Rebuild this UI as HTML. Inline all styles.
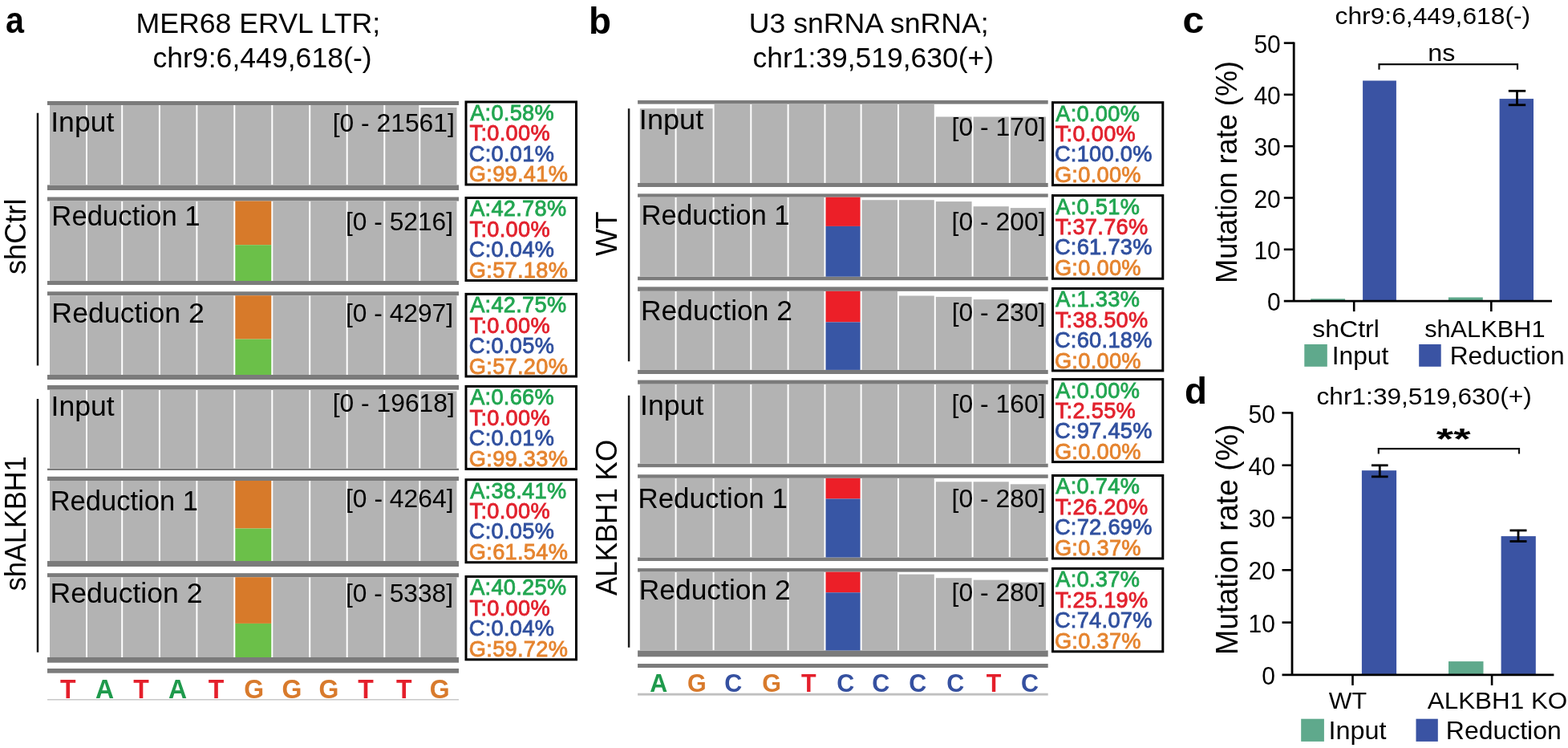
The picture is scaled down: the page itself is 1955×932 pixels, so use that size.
<!DOCTYPE html>
<html><head><meta charset="utf-8"><title>Figure</title>
<style>
html,body{margin:0;padding:0;background:#fff;}
body{width:1955px;height:932px;overflow:hidden;}
svg{display:block;}
text{font-family:"Liberation Sans",Arial,Helvetica,sans-serif;}
</style></head><body>
<svg width="1955" height="932" viewBox="0 0 1955 932">
<rect width="1955" height="932" fill="#fff"/>
<rect x="59.0" y="126.0" width="513.0" height="5.0" fill="#7b7b7b"/>
<rect x="59.0" y="230.5" width="513.0" height="6.5" fill="#7b7b7b"/>
<rect x="62.0" y="131.0" width="45.0" height="99.5" fill="#b3b3b3"/>
<rect x="109.0" y="131.0" width="42.2" height="99.5" fill="#b3b3b3"/>
<rect x="153.2" y="131.0" width="44.7" height="99.5" fill="#b3b3b3"/>
<rect x="199.9" y="131.0" width="44.5" height="99.5" fill="#b3b3b3"/>
<rect x="246.4" y="131.0" width="44.9" height="99.5" fill="#b3b3b3"/>
<rect x="293.3" y="131.0" width="45.0" height="99.5" fill="#b3b3b3"/>
<rect x="340.3" y="131.0" width="44.9" height="99.5" fill="#b3b3b3"/>
<rect x="387.2" y="131.0" width="44.5" height="99.5" fill="#b3b3b3"/>
<rect x="433.7" y="131.0" width="44.6" height="99.5" fill="#b3b3b3"/>
<rect x="480.3" y="131.0" width="42.0" height="99.5" fill="#b3b3b3"/>
<rect x="524.3" y="134.0" width="45.2" height="96.5" fill="#b3b3b3"/>
<rect x="59.0" y="245.5" width="513.0" height="5.0" fill="#7b7b7b"/>
<rect x="59.0" y="350.0" width="513.0" height="5.0" fill="#7b7b7b"/>
<rect x="62.0" y="250.5" width="45.0" height="99.5" fill="#b3b3b3"/>
<rect x="109.0" y="250.5" width="42.2" height="99.5" fill="#b3b3b3"/>
<rect x="153.2" y="250.5" width="44.7" height="99.5" fill="#b3b3b3"/>
<rect x="199.9" y="250.5" width="44.5" height="99.5" fill="#b3b3b3"/>
<rect x="246.4" y="250.5" width="44.9" height="99.5" fill="#b3b3b3"/>
<rect x="293.3" y="250.5" width="45.0" height="54.7" fill="#d77a2a"/>
<rect x="293.3" y="305.2" width="45.0" height="44.8" fill="#6bc049"/>
<rect x="340.3" y="250.5" width="44.9" height="99.5" fill="#b3b3b3"/>
<rect x="387.2" y="250.5" width="44.5" height="99.5" fill="#b3b3b3"/>
<rect x="433.7" y="250.5" width="44.6" height="99.5" fill="#b3b3b3"/>
<rect x="480.3" y="250.5" width="42.0" height="99.5" fill="#b3b3b3"/>
<rect x="524.3" y="250.5" width="45.2" height="99.5" fill="#b3b3b3"/>
<rect x="59.0" y="363.3" width="513.0" height="4.9" fill="#7b7b7b"/>
<rect x="59.0" y="467.0" width="513.0" height="6.0" fill="#7b7b7b"/>
<rect x="62.0" y="368.2" width="45.0" height="98.8" fill="#b3b3b3"/>
<rect x="109.0" y="368.2" width="42.2" height="98.8" fill="#b3b3b3"/>
<rect x="153.2" y="368.2" width="44.7" height="98.8" fill="#b3b3b3"/>
<rect x="199.9" y="368.2" width="44.5" height="98.8" fill="#b3b3b3"/>
<rect x="246.4" y="368.2" width="44.9" height="98.8" fill="#b3b3b3"/>
<rect x="293.3" y="368.2" width="45.0" height="54.4" fill="#d77a2a"/>
<rect x="293.3" y="422.6" width="45.0" height="44.4" fill="#6bc049"/>
<rect x="340.3" y="368.2" width="44.9" height="98.8" fill="#b3b3b3"/>
<rect x="387.2" y="368.2" width="44.5" height="98.8" fill="#b3b3b3"/>
<rect x="433.7" y="368.2" width="44.6" height="98.8" fill="#b3b3b3"/>
<rect x="480.3" y="368.2" width="42.0" height="98.8" fill="#b3b3b3"/>
<rect x="524.3" y="368.2" width="45.2" height="98.8" fill="#b3b3b3"/>
<rect x="59.0" y="480.0" width="513.0" height="5.7" fill="#7b7b7b"/>
<rect x="59.0" y="583.7" width="513.0" height="2.3" fill="#7b7b7b"/>
<rect x="62.0" y="485.7" width="45.0" height="98.0" fill="#b3b3b3"/>
<rect x="109.0" y="485.7" width="42.2" height="98.0" fill="#b3b3b3"/>
<rect x="153.2" y="485.7" width="44.7" height="98.0" fill="#b3b3b3"/>
<rect x="199.9" y="485.7" width="44.5" height="98.0" fill="#b3b3b3"/>
<rect x="246.4" y="485.7" width="44.9" height="98.0" fill="#b3b3b3"/>
<rect x="293.3" y="485.7" width="45.0" height="98.0" fill="#b3b3b3"/>
<rect x="340.3" y="485.7" width="44.9" height="98.0" fill="#b3b3b3"/>
<rect x="387.2" y="485.7" width="44.5" height="98.0" fill="#b3b3b3"/>
<rect x="433.7" y="485.7" width="44.6" height="98.0" fill="#b3b3b3"/>
<rect x="480.3" y="485.7" width="42.0" height="98.0" fill="#b3b3b3"/>
<rect x="524.3" y="487.4" width="45.2" height="96.3" fill="#b3b3b3"/>
<rect x="59.0" y="593.8" width="513.0" height="5.2" fill="#7b7b7b"/>
<rect x="59.0" y="699.0" width="513.0" height="7.0" fill="#7b7b7b"/>
<rect x="62.0" y="599.0" width="45.0" height="100.0" fill="#b3b3b3"/>
<rect x="109.0" y="599.0" width="42.2" height="100.0" fill="#b3b3b3"/>
<rect x="153.2" y="599.0" width="44.7" height="100.0" fill="#b3b3b3"/>
<rect x="199.9" y="599.0" width="44.5" height="100.0" fill="#b3b3b3"/>
<rect x="246.4" y="599.0" width="44.9" height="100.0" fill="#b3b3b3"/>
<rect x="293.3" y="599.0" width="45.0" height="59.5" fill="#d77a2a"/>
<rect x="293.3" y="658.5" width="45.0" height="40.5" fill="#6bc049"/>
<rect x="340.3" y="599.0" width="44.9" height="100.0" fill="#b3b3b3"/>
<rect x="387.2" y="599.0" width="44.5" height="100.0" fill="#b3b3b3"/>
<rect x="433.7" y="599.0" width="44.6" height="100.0" fill="#b3b3b3"/>
<rect x="480.3" y="599.0" width="42.0" height="100.0" fill="#b3b3b3"/>
<rect x="524.3" y="599.0" width="45.2" height="100.0" fill="#b3b3b3"/>
<rect x="59.0" y="714.2" width="513.0" height="5.0" fill="#7b7b7b"/>
<rect x="59.0" y="819.0" width="513.0" height="6.7" fill="#7b7b7b"/>
<rect x="62.0" y="719.2" width="45.0" height="99.8" fill="#b3b3b3"/>
<rect x="109.0" y="719.2" width="42.2" height="99.8" fill="#b3b3b3"/>
<rect x="153.2" y="719.2" width="44.7" height="99.8" fill="#b3b3b3"/>
<rect x="199.9" y="719.2" width="44.5" height="99.8" fill="#b3b3b3"/>
<rect x="246.4" y="719.2" width="44.9" height="99.8" fill="#b3b3b3"/>
<rect x="293.3" y="719.2" width="45.0" height="57.7" fill="#d77a2a"/>
<rect x="293.3" y="776.9" width="45.0" height="42.1" fill="#6bc049"/>
<rect x="340.3" y="719.2" width="44.9" height="99.8" fill="#b3b3b3"/>
<rect x="387.2" y="719.2" width="44.5" height="99.8" fill="#b3b3b3"/>
<rect x="433.7" y="719.2" width="44.6" height="99.8" fill="#b3b3b3"/>
<rect x="480.3" y="719.2" width="42.0" height="99.8" fill="#b3b3b3"/>
<rect x="524.3" y="719.2" width="45.2" height="99.8" fill="#b3b3b3"/>
<rect x="59.0" y="833.0" width="513.0" height="5.7" fill="#7b7b7b"/>
<rect x="59.0" y="871.0" width="513.0" height="1.5" fill="#c8c8c8"/>
<text transform="matrix(1 0 0 1.025 0 -21.750)" x="75.02" y="870.00" font-size="32.00" font-weight="bold" fill="#e41f2b">T</text>
<text transform="matrix(1 0 0 1.025 0 -21.750)" x="118.97" y="870.00" font-size="32.00" font-weight="bold" fill="#1f9a4c">A</text>
<text transform="matrix(1 0 0 1.025 0 -21.750)" x="166.22" y="870.00" font-size="32.00" font-weight="bold" fill="#e41f2b">T</text>
<text transform="matrix(1 0 0 1.025 0 -21.750)" x="210.07" y="870.00" font-size="32.00" font-weight="bold" fill="#1f9a4c">A</text>
<text transform="matrix(1 0 0 1.025 0 -21.750)" x="259.72" y="870.00" font-size="32.00" font-weight="bold" fill="#e41f2b">T</text>
<text transform="matrix(1 0 0 1.025 0 -21.750)" x="304.39" y="870.00" font-size="32.00" font-weight="bold" fill="#d87a2c">G</text>
<text transform="matrix(1 0 0 1.025 0 -21.750)" x="351.39" y="870.00" font-size="32.00" font-weight="bold" fill="#d87a2c">G</text>
<text transform="matrix(1 0 0 1.025 0 -21.750)" x="397.49" y="870.00" font-size="32.00" font-weight="bold" fill="#d87a2c">G</text>
<text transform="matrix(1 0 0 1.025 0 -21.750)" x="446.32" y="870.00" font-size="32.00" font-weight="bold" fill="#e41f2b">T</text>
<text transform="matrix(1 0 0 1.025 0 -21.750)" x="493.92" y="870.00" font-size="32.00" font-weight="bold" fill="#e41f2b">T</text>
<text transform="matrix(1 0 0 1.025 0 -21.750)" x="535.69" y="870.00" font-size="32.00" font-weight="bold" fill="#d87a2c">G</text>
<text transform="matrix(1 0 0 1.025 0 -4.107)" x="63.22" y="164.30" font-size="35.00" fill="#000" textLength="79.14" lengthAdjust="spacingAndGlyphs">Input</text>
<text transform="matrix(1 0 0 1.025 0 -7.027)" x="64.35" y="281.10" font-size="35.00" fill="#000" textLength="185.34" lengthAdjust="spacingAndGlyphs">Reduction 1</text>
<text transform="matrix(1 0 0 1.025 0 -10.060)" x="64.37" y="402.40" font-size="35.00" fill="#000" textLength="190.52" lengthAdjust="spacingAndGlyphs">Reduction 2</text>
<text transform="matrix(1 0 0 1.025 0 -12.957)" x="63.62" y="518.30" font-size="35.00" fill="#000" textLength="79.14" lengthAdjust="spacingAndGlyphs">Input</text>
<text transform="matrix(1 0 0 1.025 0 -15.890)" x="62.67" y="635.60" font-size="35.00" fill="#000" textLength="184.22" lengthAdjust="spacingAndGlyphs">Reduction 1</text>
<text transform="matrix(1 0 0 1.025 0 -18.777)" x="62.58" y="751.10" font-size="35.00" fill="#000" textLength="189.91" lengthAdjust="spacingAndGlyphs">Reduction 2</text>
<text transform="matrix(1 0 0 1.025 0 -4.107)" x="414.63" y="164.30" font-size="31.00" fill="#000" textLength="152.24" lengthAdjust="spacingAndGlyphs">[0 - 21561]</text>
<text transform="matrix(1 0 0 1.025 0 -7.172)" x="431.04" y="286.90" font-size="31.00" fill="#000" textLength="134.02" lengthAdjust="spacingAndGlyphs">[0 - 5216]</text>
<text transform="matrix(1 0 0 1.025 0 -10.035)" x="431.04" y="401.40" font-size="31.00" fill="#000" textLength="134.02" lengthAdjust="spacingAndGlyphs">[0 - 4297]</text>
<text transform="matrix(1 0 0 1.025 0 -12.830)" x="414.63" y="513.20" font-size="31.00" fill="#000" textLength="152.24" lengthAdjust="spacingAndGlyphs">[0 - 19618]</text>
<text transform="matrix(1 0 0 1.025 0 -15.812)" x="431.03" y="632.50" font-size="31.00" fill="#000" textLength="134.54" lengthAdjust="spacingAndGlyphs">[0 - 4264]</text>
<text transform="matrix(1 0 0 1.025 0 -18.747)" x="431.04" y="749.90" font-size="31.00" fill="#000" textLength="134.02" lengthAdjust="spacingAndGlyphs">[0 - 5338]</text>
<rect x="581.0" y="127.0" width="137.5" height="103.0" fill="#fff" stroke="#000" stroke-width="3"/>
<text x="586.15" y="149.90" font-size="27.2" letter-spacing="0.3" fill="#22a651" stroke="#22a651" stroke-width="0.85">A:0.58%</text>
<text x="585.59" y="175.30" font-size="27.2" letter-spacing="0.3" fill="#e2222e" stroke="#e2222e" stroke-width="0.85">T:0.00%</text>
<text x="584.82" y="200.70" font-size="27.2" letter-spacing="0.3" fill="#30509f" stroke="#30509f" stroke-width="0.85">C:0.01%</text>
<text x="584.83" y="226.10" font-size="27.2" letter-spacing="0.3" fill="#e5842f" stroke="#e5842f" stroke-width="0.85">G:99.41%</text>
<rect x="581.0" y="246.5" width="137.5" height="103.0" fill="#fff" stroke="#000" stroke-width="3"/>
<text x="586.15" y="269.40" font-size="27.2" letter-spacing="0.3" fill="#22a651" stroke="#22a651" stroke-width="0.85">A:42.78%</text>
<text x="585.59" y="294.80" font-size="27.2" letter-spacing="0.3" fill="#e2222e" stroke="#e2222e" stroke-width="0.85">T:0.00%</text>
<text x="584.82" y="320.20" font-size="27.2" letter-spacing="0.3" fill="#30509f" stroke="#30509f" stroke-width="0.85">C:0.04%</text>
<text x="584.83" y="345.60" font-size="27.2" letter-spacing="0.3" fill="#e5842f" stroke="#e5842f" stroke-width="0.85">G:57.18%</text>
<rect x="581.0" y="366.4" width="137.5" height="102.6" fill="#fff" stroke="#000" stroke-width="3"/>
<text x="586.15" y="389.30" font-size="27.2" letter-spacing="0.3" fill="#22a651" stroke="#22a651" stroke-width="0.85">A:42.75%</text>
<text x="585.59" y="414.70" font-size="27.2" letter-spacing="0.3" fill="#e2222e" stroke="#e2222e" stroke-width="0.85">T:0.00%</text>
<text x="584.82" y="440.10" font-size="27.2" letter-spacing="0.3" fill="#30509f" stroke="#30509f" stroke-width="0.85">C:0.05%</text>
<text x="584.83" y="465.50" font-size="27.2" letter-spacing="0.3" fill="#e5842f" stroke="#e5842f" stroke-width="0.85">G:57.20%</text>
<rect x="581.0" y="481.4" width="137.5" height="103.0" fill="#fff" stroke="#000" stroke-width="3"/>
<text x="586.15" y="504.30" font-size="27.2" letter-spacing="0.3" fill="#22a651" stroke="#22a651" stroke-width="0.85">A:0.66%</text>
<text x="585.59" y="529.70" font-size="27.2" letter-spacing="0.3" fill="#e2222e" stroke="#e2222e" stroke-width="0.85">T:0.00%</text>
<text x="584.82" y="555.10" font-size="27.2" letter-spacing="0.3" fill="#30509f" stroke="#30509f" stroke-width="0.85">C:0.01%</text>
<text x="584.83" y="580.50" font-size="27.2" letter-spacing="0.3" fill="#e5842f" stroke="#e5842f" stroke-width="0.85">G:99.33%</text>
<rect x="581.0" y="597.7" width="137.5" height="103.0" fill="#fff" stroke="#000" stroke-width="3"/>
<text x="586.15" y="620.60" font-size="27.2" letter-spacing="0.3" fill="#22a651" stroke="#22a651" stroke-width="0.85">A:38.41%</text>
<text x="585.59" y="646.00" font-size="27.2" letter-spacing="0.3" fill="#e2222e" stroke="#e2222e" stroke-width="0.85">T:0.00%</text>
<text x="584.82" y="671.40" font-size="27.2" letter-spacing="0.3" fill="#30509f" stroke="#30509f" stroke-width="0.85">C:0.05%</text>
<text x="584.83" y="696.80" font-size="27.2" letter-spacing="0.3" fill="#e5842f" stroke="#e5842f" stroke-width="0.85">G:61.54%</text>
<rect x="581.0" y="718.4" width="137.5" height="103.4" fill="#fff" stroke="#000" stroke-width="3"/>
<text x="586.15" y="741.30" font-size="27.2" letter-spacing="0.3" fill="#22a651" stroke="#22a651" stroke-width="0.85">A:40.25%</text>
<text x="585.59" y="766.70" font-size="27.2" letter-spacing="0.3" fill="#e2222e" stroke="#e2222e" stroke-width="0.85">T:0.00%</text>
<text x="584.82" y="792.10" font-size="27.2" letter-spacing="0.3" fill="#30509f" stroke="#30509f" stroke-width="0.85">C:0.04%</text>
<text x="584.83" y="817.50" font-size="27.2" letter-spacing="0.3" fill="#e5842f" stroke="#e5842f" stroke-width="0.85">G:59.72%</text>
<line x1="47.0" y1="140.7" x2="47.0" y2="455.5" stroke="#1a1a1a" stroke-width="2.5"/>
<line x1="47.0" y1="497.0" x2="47.0" y2="812.8" stroke="#1a1a1a" stroke-width="2.5"/>
<text transform="translate(32.20 341.00) rotate(-90) scale(1 1.04)" x="-1.01" y="0" font-size="35.00" fill="#000" textLength="94.43" lengthAdjust="spacingAndGlyphs">shCtrl</text>
<text transform="translate(32.20 735.30) rotate(-90) scale(1 1.04)" x="-0.96" y="0" font-size="35.00" fill="#000" textLength="167.93" lengthAdjust="spacingAndGlyphs">shALKBH1</text>
<text transform="matrix(1 0 0 1.025 0 -1.032)" x="6.99" y="41.30" font-size="44.50" font-weight="bold" fill="#000" textLength="22.95" lengthAdjust="spacingAndGlyphs">a</text>
<text transform="matrix(1 0 0 1.025 0 -1.022)" x="169.42" y="40.90" font-size="35.00" fill="#000" textLength="304.74" lengthAdjust="spacingAndGlyphs">MER68 ERVL LTR;</text>
<text transform="matrix(1 0 0 1.025 0 -2.095)" x="190.39" y="83.80" font-size="34.50" fill="#000" textLength="273.22" lengthAdjust="spacingAndGlyphs">chr9:6,449,618(-)</text>
<rect x="795.1" y="125.0" width="511.6" height="4.6" fill="#7b7b7b"/>
<rect x="795.1" y="228.0" width="511.6" height="5.0" fill="#7b7b7b"/>
<rect x="797.9" y="135.2" width="43.7" height="92.8" fill="#b3b3b3"/>
<rect x="843.6" y="135.2" width="45.0" height="92.8" fill="#b3b3b3"/>
<rect x="890.6" y="129.6" width="44.7" height="98.4" fill="#b3b3b3"/>
<rect x="937.3" y="129.6" width="44.3" height="98.4" fill="#b3b3b3"/>
<rect x="983.6" y="129.6" width="43.9" height="98.4" fill="#b3b3b3"/>
<rect x="1029.5" y="129.6" width="43.1" height="98.4" fill="#b3b3b3"/>
<rect x="1074.6" y="129.6" width="44.4" height="98.4" fill="#b3b3b3"/>
<rect x="1121.0" y="129.6" width="43.8" height="98.4" fill="#b3b3b3"/>
<rect x="1166.8" y="145.5" width="44.8" height="82.5" fill="#b3b3b3"/>
<rect x="1213.6" y="145.5" width="44.2" height="82.5" fill="#b3b3b3"/>
<rect x="1259.8" y="145.5" width="44.2" height="82.5" fill="#b3b3b3"/>
<rect x="795.1" y="241.4" width="511.6" height="4.3" fill="#7b7b7b"/>
<rect x="795.1" y="344.7" width="511.6" height="4.5" fill="#7b7b7b"/>
<rect x="797.9" y="245.7" width="43.7" height="99.0" fill="#b3b3b3"/>
<rect x="843.6" y="245.7" width="45.0" height="99.0" fill="#b3b3b3"/>
<rect x="890.6" y="245.7" width="44.7" height="99.0" fill="#b3b3b3"/>
<rect x="937.3" y="245.7" width="44.3" height="99.0" fill="#b3b3b3"/>
<rect x="983.6" y="245.7" width="43.9" height="99.0" fill="#b3b3b3"/>
<rect x="1029.5" y="245.7" width="43.1" height="36.2" fill="#ec1f28"/>
<rect x="1029.5" y="281.9" width="43.1" height="62.8" fill="#3856a5"/>
<rect x="1074.6" y="249.2" width="44.4" height="95.5" fill="#b3b3b3"/>
<rect x="1121.0" y="249.2" width="43.8" height="95.5" fill="#b3b3b3"/>
<rect x="1166.8" y="251.1" width="44.8" height="93.6" fill="#b3b3b3"/>
<rect x="1213.6" y="257.2" width="44.2" height="87.5" fill="#b3b3b3"/>
<rect x="1259.8" y="259.1" width="44.2" height="85.6" fill="#b3b3b3"/>
<rect x="795.1" y="357.4" width="511.6" height="5.4" fill="#7b7b7b"/>
<rect x="795.1" y="460.9" width="511.6" height="5.1" fill="#7b7b7b"/>
<rect x="797.9" y="362.8" width="43.7" height="98.1" fill="#b3b3b3"/>
<rect x="843.6" y="362.8" width="45.0" height="98.1" fill="#b3b3b3"/>
<rect x="890.6" y="362.8" width="44.7" height="98.1" fill="#b3b3b3"/>
<rect x="937.3" y="362.8" width="44.3" height="98.1" fill="#b3b3b3"/>
<rect x="983.6" y="362.8" width="43.9" height="98.1" fill="#b3b3b3"/>
<rect x="1029.5" y="362.8" width="43.1" height="38.6" fill="#ec1f28"/>
<rect x="1029.5" y="401.4" width="43.1" height="59.5" fill="#3856a5"/>
<rect x="1074.6" y="362.8" width="44.4" height="98.1" fill="#b3b3b3"/>
<rect x="1121.0" y="368.5" width="43.8" height="92.4" fill="#b3b3b3"/>
<rect x="1166.8" y="369.9" width="44.8" height="91.0" fill="#b3b3b3"/>
<rect x="1213.6" y="373.1" width="44.2" height="87.8" fill="#b3b3b3"/>
<rect x="1259.8" y="378.1" width="44.2" height="82.8" fill="#b3b3b3"/>
<rect x="795.1" y="473.6" width="511.6" height="5.1" fill="#7b7b7b"/>
<rect x="795.1" y="577.7" width="511.6" height="4.5" fill="#7b7b7b"/>
<rect x="797.9" y="478.7" width="43.7" height="99.0" fill="#b3b3b3"/>
<rect x="843.6" y="478.7" width="45.0" height="99.0" fill="#b3b3b3"/>
<rect x="890.6" y="478.7" width="44.7" height="99.0" fill="#b3b3b3"/>
<rect x="937.3" y="478.7" width="44.3" height="99.0" fill="#b3b3b3"/>
<rect x="983.6" y="478.7" width="43.9" height="99.0" fill="#b3b3b3"/>
<rect x="1029.5" y="478.7" width="43.1" height="99.0" fill="#b3b3b3"/>
<rect x="1074.6" y="478.7" width="44.4" height="99.0" fill="#b3b3b3"/>
<rect x="1121.0" y="478.7" width="43.8" height="99.0" fill="#b3b3b3"/>
<rect x="1166.8" y="478.7" width="44.8" height="99.0" fill="#b3b3b3"/>
<rect x="1213.6" y="478.7" width="44.2" height="99.0" fill="#b3b3b3"/>
<rect x="1259.8" y="478.7" width="44.2" height="99.0" fill="#b3b3b3"/>
<rect x="795.1" y="591.3" width="511.6" height="4.5" fill="#7b7b7b"/>
<rect x="795.1" y="694.5" width="511.6" height="4.5" fill="#7b7b7b"/>
<rect x="797.9" y="595.8" width="43.7" height="98.7" fill="#b3b3b3"/>
<rect x="843.6" y="595.8" width="45.0" height="98.7" fill="#b3b3b3"/>
<rect x="890.6" y="595.8" width="44.7" height="98.7" fill="#b3b3b3"/>
<rect x="937.3" y="595.8" width="44.3" height="98.7" fill="#b3b3b3"/>
<rect x="983.6" y="595.8" width="43.9" height="98.7" fill="#b3b3b3"/>
<rect x="1029.5" y="595.8" width="43.1" height="25.7" fill="#ec1f28"/>
<rect x="1029.5" y="621.5" width="43.1" height="73.0" fill="#3856a5"/>
<rect x="1074.6" y="595.8" width="44.4" height="98.7" fill="#b3b3b3"/>
<rect x="1121.0" y="595.8" width="43.8" height="98.7" fill="#b3b3b3"/>
<rect x="1166.8" y="600.3" width="44.8" height="94.2" fill="#b3b3b3"/>
<rect x="1213.6" y="600.3" width="44.2" height="94.2" fill="#b3b3b3"/>
<rect x="1259.8" y="603.3" width="44.2" height="91.2" fill="#b3b3b3"/>
<rect x="795.1" y="708.1" width="511.6" height="4.5" fill="#7b7b7b"/>
<rect x="795.1" y="810.5" width="511.6" height="7.8" fill="#7b7b7b"/>
<rect x="797.9" y="712.6" width="43.7" height="97.9" fill="#b3b3b3"/>
<rect x="843.6" y="712.6" width="45.0" height="97.9" fill="#b3b3b3"/>
<rect x="890.6" y="712.6" width="44.7" height="97.9" fill="#b3b3b3"/>
<rect x="937.3" y="712.6" width="44.3" height="97.9" fill="#b3b3b3"/>
<rect x="983.6" y="712.6" width="43.9" height="97.9" fill="#b3b3b3"/>
<rect x="1029.5" y="712.6" width="43.1" height="25.7" fill="#ec1f28"/>
<rect x="1029.5" y="738.3" width="43.1" height="72.2" fill="#3856a5"/>
<rect x="1074.6" y="712.6" width="44.4" height="97.9" fill="#b3b3b3"/>
<rect x="1121.0" y="715.6" width="43.8" height="94.9" fill="#b3b3b3"/>
<rect x="1166.8" y="720.2" width="44.8" height="90.3" fill="#b3b3b3"/>
<rect x="1213.6" y="722.6" width="44.2" height="87.9" fill="#b3b3b3"/>
<rect x="1259.8" y="725.6" width="44.2" height="84.9" fill="#b3b3b3"/>
<rect x="795.1" y="827.0" width="511.6" height="5.0" fill="#7b7b7b"/>
<rect x="795.1" y="863.7" width="511.6" height="2.9" fill="#c0c0c0"/>
<text transform="matrix(1 0 0 1.025 0 -21.560)" x="810.21" y="862.40" font-size="30.50" font-weight="bold" fill="#1f9a4c">A</text>
<text transform="matrix(1 0 0 1.025 0 -21.560)" x="856.96" y="862.40" font-size="30.50" font-weight="bold" fill="#d87a2c">G</text>
<text transform="matrix(1 0 0 1.025 0 -21.560)" x="903.38" y="862.40" font-size="30.50" font-weight="bold" fill="#3550a0">C</text>
<text transform="matrix(1 0 0 1.025 0 -21.560)" x="950.36" y="862.40" font-size="30.50" font-weight="bold" fill="#d87a2c">G</text>
<text transform="matrix(1 0 0 1.025 0 -21.560)" x="999.08" y="862.40" font-size="30.50" font-weight="bold" fill="#e41f2b">T</text>
<text transform="matrix(1 0 0 1.025 0 -21.560)" x="1043.28" y="862.40" font-size="30.50" font-weight="bold" fill="#3550a0">C</text>
<text transform="matrix(1 0 0 1.025 0 -21.560)" x="1087.28" y="862.40" font-size="30.50" font-weight="bold" fill="#3550a0">C</text>
<text transform="matrix(1 0 0 1.025 0 -21.560)" x="1133.38" y="862.40" font-size="30.50" font-weight="bold" fill="#3550a0">C</text>
<text transform="matrix(1 0 0 1.025 0 -21.560)" x="1180.38" y="862.40" font-size="30.50" font-weight="bold" fill="#3550a0">C</text>
<text transform="matrix(1 0 0 1.025 0 -21.560)" x="1229.78" y="862.40" font-size="30.50" font-weight="bold" fill="#e41f2b">T</text>
<text transform="matrix(1 0 0 1.025 0 -21.560)" x="1272.98" y="862.40" font-size="30.50" font-weight="bold" fill="#3550a0">C</text>
<text transform="matrix(1 0 0 1.025 0 -4.025)" x="796.86" y="161.00" font-size="35.00" fill="#000" textLength="80.40" lengthAdjust="spacingAndGlyphs">Input</text>
<text transform="matrix(1 0 0 1.025 0 -6.995)" x="799.55" y="279.80" font-size="35.00" fill="#000" textLength="185.14" lengthAdjust="spacingAndGlyphs">Reduction 1</text>
<text transform="matrix(1 0 0 1.025 0 -9.980)" x="799.00" y="399.20" font-size="35.00" fill="#000" textLength="188.99" lengthAdjust="spacingAndGlyphs">Reduction 2</text>
<text transform="matrix(1 0 0 1.025 0 -12.915)" x="798.11" y="516.60" font-size="35.00" fill="#000" textLength="79.25" lengthAdjust="spacingAndGlyphs">Input</text>
<text transform="matrix(1 0 0 1.025 0 -15.825)" x="795.43" y="633.00" font-size="35.00" fill="#000" textLength="186.47" lengthAdjust="spacingAndGlyphs">Reduction 1</text>
<text transform="matrix(1 0 0 1.025 0 -18.685)" x="796.70" y="747.40" font-size="35.00" fill="#000" textLength="188.99" lengthAdjust="spacingAndGlyphs">Reduction 2</text>
<text transform="matrix(1 0 0 1.025 0 -4.217)" x="1186.53" y="168.70" font-size="31.00" fill="#000" textLength="117.05" lengthAdjust="spacingAndGlyphs">[0 - 170]</text>
<text transform="matrix(1 0 0 1.025 0 -7.172)" x="1186.53" y="286.90" font-size="31.00" fill="#000" textLength="117.05" lengthAdjust="spacingAndGlyphs">[0 - 200]</text>
<text transform="matrix(1 0 0 1.025 0 -10.012)" x="1186.73" y="400.50" font-size="31.00" fill="#000" textLength="116.74" lengthAdjust="spacingAndGlyphs">[0 - 230]</text>
<text transform="matrix(1 0 0 1.025 0 -12.842)" x="1186.53" y="513.70" font-size="31.00" fill="#000" textLength="117.05" lengthAdjust="spacingAndGlyphs">[0 - 160]</text>
<text transform="matrix(1 0 0 1.025 0 -15.807)" x="1186.53" y="632.30" font-size="31.00" fill="#000" textLength="117.05" lengthAdjust="spacingAndGlyphs">[0 - 280]</text>
<text transform="matrix(1 0 0 1.025 0 -18.732)" x="1186.53" y="749.30" font-size="31.00" fill="#000" textLength="117.05" lengthAdjust="spacingAndGlyphs">[0 - 280]</text>
<rect x="1312.5" y="127.7" width="137.3" height="103.0" fill="#fff" stroke="#000" stroke-width="3"/>
<text x="1316.25" y="150.60" font-size="27.2" letter-spacing="0.3" fill="#22a651" stroke="#22a651" stroke-width="0.85">A:0.00%</text>
<text x="1315.69" y="176.00" font-size="27.2" letter-spacing="0.3" fill="#e2222e" stroke="#e2222e" stroke-width="0.85">T:0.00%</text>
<text x="1314.92" y="201.40" font-size="27.2" letter-spacing="0.3" fill="#30509f" stroke="#30509f" stroke-width="0.85">C:100.0%</text>
<text x="1314.93" y="226.80" font-size="27.2" letter-spacing="0.3" fill="#e5842f" stroke="#e5842f" stroke-width="0.85">G:0.00%</text>
<rect x="1312.5" y="243.6" width="137.3" height="103.6" fill="#fff" stroke="#000" stroke-width="3"/>
<text x="1316.25" y="266.50" font-size="27.2" letter-spacing="0.3" fill="#22a651" stroke="#22a651" stroke-width="0.85">A:0.51%</text>
<text x="1315.69" y="291.90" font-size="27.2" letter-spacing="0.3" fill="#e2222e" stroke="#e2222e" stroke-width="0.85">T:37.76%</text>
<text x="1314.92" y="317.30" font-size="27.2" letter-spacing="0.3" fill="#30509f" stroke="#30509f" stroke-width="0.85">C:61.73%</text>
<text x="1314.93" y="342.70" font-size="27.2" letter-spacing="0.3" fill="#e5842f" stroke="#e5842f" stroke-width="0.85">G:0.00%</text>
<rect x="1312.5" y="359.5" width="137.3" height="102.4" fill="#fff" stroke="#000" stroke-width="3"/>
<text x="1316.25" y="382.40" font-size="27.2" letter-spacing="0.3" fill="#22a651" stroke="#22a651" stroke-width="0.85">A:1.33%</text>
<text x="1315.69" y="407.80" font-size="27.2" letter-spacing="0.3" fill="#e2222e" stroke="#e2222e" stroke-width="0.85">T:38.50%</text>
<text x="1314.92" y="433.20" font-size="27.2" letter-spacing="0.3" fill="#30509f" stroke="#30509f" stroke-width="0.85">C:60.18%</text>
<text x="1314.93" y="458.60" font-size="27.2" letter-spacing="0.3" fill="#e5842f" stroke="#e5842f" stroke-width="0.85">G:0.00%</text>
<rect x="1312.5" y="472.6" width="137.3" height="103.0" fill="#fff" stroke="#000" stroke-width="3"/>
<text x="1316.25" y="495.50" font-size="27.2" letter-spacing="0.3" fill="#22a651" stroke="#22a651" stroke-width="0.85">A:0.00%</text>
<text x="1315.69" y="520.90" font-size="27.2" letter-spacing="0.3" fill="#e2222e" stroke="#e2222e" stroke-width="0.85">T:2.55%</text>
<text x="1314.92" y="546.30" font-size="27.2" letter-spacing="0.3" fill="#30509f" stroke="#30509f" stroke-width="0.85">C:97.45%</text>
<text x="1314.93" y="571.70" font-size="27.2" letter-spacing="0.3" fill="#e5842f" stroke="#e5842f" stroke-width="0.85">G:0.00%</text>
<rect x="1312.5" y="592.5" width="137.3" height="103.4" fill="#fff" stroke="#000" stroke-width="3"/>
<text x="1316.25" y="615.40" font-size="27.2" letter-spacing="0.3" fill="#22a651" stroke="#22a651" stroke-width="0.85">A:0.74%</text>
<text x="1315.69" y="640.80" font-size="27.2" letter-spacing="0.3" fill="#e2222e" stroke="#e2222e" stroke-width="0.85">T:26.20%</text>
<text x="1314.92" y="666.20" font-size="27.2" letter-spacing="0.3" fill="#30509f" stroke="#30509f" stroke-width="0.85">C:72.69%</text>
<text x="1314.93" y="691.60" font-size="27.2" letter-spacing="0.3" fill="#e5842f" stroke="#e5842f" stroke-width="0.85">G:0.37%</text>
<rect x="1312.5" y="708.4" width="137.3" height="103.4" fill="#fff" stroke="#000" stroke-width="3"/>
<text x="1316.25" y="731.30" font-size="27.2" letter-spacing="0.3" fill="#22a651" stroke="#22a651" stroke-width="0.85">A:0.37%</text>
<text x="1315.69" y="756.70" font-size="27.2" letter-spacing="0.3" fill="#e2222e" stroke="#e2222e" stroke-width="0.85">T:25.19%</text>
<text x="1314.92" y="782.10" font-size="27.2" letter-spacing="0.3" fill="#30509f" stroke="#30509f" stroke-width="0.85">C:74.07%</text>
<text x="1314.93" y="807.50" font-size="27.2" letter-spacing="0.3" fill="#e5842f" stroke="#e5842f" stroke-width="0.85">G:0.37%</text>
<line x1="784.1" y1="135.2" x2="784.1" y2="450.3" stroke="#1a1a1a" stroke-width="2.5"/>
<line x1="784.1" y1="492.8" x2="784.1" y2="806.8" stroke="#1a1a1a" stroke-width="2.5"/>
<text transform="translate(768.80 318.90) rotate(-90) scale(1 1.04)" x="-0.16" y="0" font-size="35.00" fill="#000" textLength="55.78" lengthAdjust="spacingAndGlyphs">WT</text>
<text transform="translate(768.80 742.00) rotate(-90) scale(1 1.04)" x="-0.07" y="0" font-size="35.00" fill="#000" textLength="194.14" lengthAdjust="spacingAndGlyphs">ALKBH1 KO</text>
<text transform="matrix(1 0 0 1.025 0 -1.040)" x="734.08" y="41.60" font-size="44.50" font-weight="bold" fill="#000" textLength="28.00" lengthAdjust="spacingAndGlyphs">b</text>
<text transform="matrix(1 0 0 1.025 0 -1.032)" x="933.77" y="41.30" font-size="34.20" fill="#000" textLength="298.91" lengthAdjust="spacingAndGlyphs">U3 snRNA snRNA;</text>
<text transform="matrix(1 0 0 1.025 0 -2.095)" x="938.59" y="83.80" font-size="34.20" fill="#000" textLength="300.40" lengthAdjust="spacingAndGlyphs">chr1:39,519,630(+)</text>
<text transform="matrix(1 0 0 1.025 0 -1.037)" x="1474.42" y="41.50" font-size="44.50" font-weight="bold" fill="#000" textLength="26.79" lengthAdjust="spacingAndGlyphs">c</text>
<rect x="1634.2" y="372.3" width="42.9" height="2.8" fill="#5fa98c"/>
<rect x="1699.1" y="100.5" width="41.8" height="274.6" fill="#3a53a3"/>
<rect x="1805.9" y="370.5" width="42.9" height="4.6" fill="#5fa98c"/>
<rect x="1869.6" y="123.1" width="42.4" height="252.0" fill="#3a53a3"/>
<line x1="1613.2" y1="52.4" x2="1613.2" y2="375.1" stroke="#000" stroke-width="2.8"/>
<line x1="1600.8" y1="375.1" x2="1935.0" y2="375.1" stroke="#000" stroke-width="2.8"/>
<line x1="1600.8" y1="310.8" x2="1613.2" y2="310.8" stroke="#000" stroke-width="2.6"/>
<line x1="1600.8" y1="246.5" x2="1613.2" y2="246.5" stroke="#000" stroke-width="2.6"/>
<line x1="1600.8" y1="182.2" x2="1613.2" y2="182.2" stroke="#000" stroke-width="2.6"/>
<line x1="1600.8" y1="117.9" x2="1613.2" y2="117.9" stroke="#000" stroke-width="2.6"/>
<line x1="1600.8" y1="53.6" x2="1613.2" y2="53.6" stroke="#000" stroke-width="2.6"/>
<line x1="1688.2" y1="375.1" x2="1688.2" y2="388.1" stroke="#000" stroke-width="2.6"/>
<line x1="1859.3" y1="375.1" x2="1859.3" y2="388.1" stroke="#000" stroke-width="2.6"/>
<line x1="1891.5" y1="113.3" x2="1891.5" y2="130.8" stroke="#000" stroke-width="2.8"/>
<line x1="1880.8" y1="113.3" x2="1902.2" y2="113.3" stroke="#000" stroke-width="2.8"/>
<line x1="1880.8" y1="130.8" x2="1902.2" y2="130.8" stroke="#000" stroke-width="2.8"/>
<path d="M1719.5 86.7 V80.2 H1892.0 V86.7" fill="none" stroke="#111" stroke-width="2.2"/>
<text transform="matrix(1 0 0 1.025 0 -9.682)" x="1580.09" y="387.30" font-size="30.00" fill="#000">0</text>
<text transform="matrix(1 0 0 1.025 0 -8.075)" x="1563.40" y="323.00" font-size="30.00" fill="#000">10</text>
<text transform="matrix(1 0 0 1.025 0 -6.467)" x="1563.40" y="258.70" font-size="30.00" fill="#000">20</text>
<text transform="matrix(1 0 0 1.025 0 -4.860)" x="1563.40" y="194.40" font-size="30.00" fill="#000">30</text>
<text transform="matrix(1 0 0 1.025 0 -3.252)" x="1563.40" y="130.10" font-size="30.00" fill="#000">40</text>
<text transform="matrix(1 0 0 1.025 0 -1.645)" x="1563.40" y="65.80" font-size="30.00" fill="#000">50</text>
<text transform="matrix(1 0 0 1.025 0 -1.890)" x="1780.36" y="75.60" font-size="29.00" fill="#000" textLength="34.11" lengthAdjust="spacingAndGlyphs">ns</text>
<text transform="matrix(1 0 0 1.025 0 -0.747)" x="1664.55" y="29.90" font-size="29.30" fill="#000" textLength="243.62" lengthAdjust="spacingAndGlyphs">chr9:6,449,618(-)</text>
<text transform="translate(1542.00 350.00) rotate(-90) scale(1 1.04)" x="-2.96" y="0" font-size="35.50" fill="#000" textLength="277.00" lengthAdjust="spacingAndGlyphs">Mutation rate (%)</text>
<text transform="matrix(1 0 0 1.025 0 -10.512)" x="1636.31" y="420.50" font-size="29.00" fill="#000" textLength="83.53" lengthAdjust="spacingAndGlyphs">shCtrl</text>
<text transform="matrix(1 0 0 1.025 0 -10.512)" x="1776.14" y="420.50" font-size="29.00" fill="#000" textLength="150.36" lengthAdjust="spacingAndGlyphs">shALKBH1</text>
<rect x="1626.3" y="429.0" width="28.5" height="27.8" fill="#5fa98c"/>
<rect x="1769.2" y="429.0" width="27.5" height="27.8" fill="#3a53a3"/>
<text transform="matrix(1 0 0 1.025 0 -11.347)" x="1660.67" y="453.90" font-size="31.00" fill="#000" textLength="70.66" lengthAdjust="spacingAndGlyphs">Input</text>
<text transform="matrix(1 0 0 1.025 0 -11.347)" x="1807.70" y="453.90" font-size="31.00" fill="#000" textLength="142.97" lengthAdjust="spacingAndGlyphs">Reduction</text>
<text transform="matrix(1 0 0 1.025 0 -12.565)" x="1476.92" y="502.60" font-size="44.50" font-weight="bold" fill="#000" textLength="28.00" lengthAdjust="spacingAndGlyphs">d</text>
<rect x="1697.9" y="586.2" width="43.2" height="254.7" fill="#3a53a3"/>
<rect x="1806.0" y="824.1" width="43.5" height="16.8" fill="#5fa98c"/>
<rect x="1871.6" y="668.1" width="43.2" height="172.8" fill="#3a53a3"/>
<line x1="1611.0" y1="513.2" x2="1611.0" y2="840.9" stroke="#000" stroke-width="2.8"/>
<line x1="1598.5" y1="840.9" x2="1937.4" y2="840.9" stroke="#000" stroke-width="2.8"/>
<line x1="1598.5" y1="775.6" x2="1611.0" y2="775.6" stroke="#000" stroke-width="2.6"/>
<line x1="1598.5" y1="710.3" x2="1611.0" y2="710.3" stroke="#000" stroke-width="2.6"/>
<line x1="1598.5" y1="645.0" x2="1611.0" y2="645.0" stroke="#000" stroke-width="2.6"/>
<line x1="1598.5" y1="579.7" x2="1611.0" y2="579.7" stroke="#000" stroke-width="2.6"/>
<line x1="1598.5" y1="514.4" x2="1611.0" y2="514.4" stroke="#000" stroke-width="2.6"/>
<line x1="1686.5" y1="840.9" x2="1686.5" y2="853.9" stroke="#000" stroke-width="2.6"/>
<line x1="1860.1" y1="840.9" x2="1860.1" y2="853.9" stroke="#000" stroke-width="2.6"/>
<line x1="1720.3" y1="579.8" x2="1720.3" y2="593.9" stroke="#000" stroke-width="2.8"/>
<line x1="1710.0" y1="579.8" x2="1730.6" y2="579.8" stroke="#000" stroke-width="2.8"/>
<line x1="1710.0" y1="593.9" x2="1730.6" y2="593.9" stroke="#000" stroke-width="2.8"/>
<line x1="1893.0" y1="660.9" x2="1893.0" y2="674.5" stroke="#000" stroke-width="2.8"/>
<line x1="1882.5" y1="660.9" x2="1903.5" y2="660.9" stroke="#000" stroke-width="2.8"/>
<line x1="1882.5" y1="674.5" x2="1903.5" y2="674.5" stroke="#000" stroke-width="2.8"/>
<path d="M1718.8 565.6 V559.1 H1894.0 V565.6" fill="none" stroke="#111" stroke-width="2.2"/>
<text transform="matrix(1 0 0 1.025 0 -21.327)" x="1573.19" y="853.10" font-size="30.00" fill="#000">0</text>
<text transform="matrix(1 0 0 1.025 0 -19.695)" x="1556.50" y="787.80" font-size="30.00" fill="#000">10</text>
<text transform="matrix(1 0 0 1.025 0 -18.062)" x="1556.50" y="722.50" font-size="30.00" fill="#000">20</text>
<text transform="matrix(1 0 0 1.025 0 -16.430)" x="1556.50" y="657.20" font-size="30.00" fill="#000">30</text>
<text transform="matrix(1 0 0 1.025 0 -14.797)" x="1556.50" y="591.90" font-size="30.00" fill="#000">40</text>
<text transform="matrix(1 0 0 1.025 0 -13.165)" x="1556.50" y="526.60" font-size="30.00" fill="#000">50</text>
<text transform="matrix(1 0 0 1.025 0 -14.012)" x="1790.84" y="560.50" font-size="36.00" font-weight="bold" fill="#000" textLength="42.61" lengthAdjust="spacingAndGlyphs">**</text>
<text transform="matrix(1 0 0 1.025 0 -12.610)" x="1641.56" y="504.40" font-size="29.00" fill="#000" textLength="268.21" lengthAdjust="spacingAndGlyphs">chr1:39,519,630(+)</text>
<text transform="translate(1542.50 812.90) rotate(-90) scale(1 1.04)" x="-3.07" y="0" font-size="36.50" fill="#000" textLength="287.40" lengthAdjust="spacingAndGlyphs">Mutation rate (%)</text>
<text transform="matrix(1 0 0 1.025 0 -22.070)" x="1656.67" y="882.80" font-size="29.50" fill="#000" textLength="47.33" lengthAdjust="spacingAndGlyphs">WT</text>
<text transform="matrix(1 0 0 1.025 0 -22.070)" x="1779.74" y="882.80" font-size="29.50" fill="#000" textLength="174.56" lengthAdjust="spacingAndGlyphs">ALKBH1 KO</text>
<rect x="1622.2" y="895.7" width="28.7" height="28.2" fill="#5fa98c"/>
<rect x="1765.5" y="895.7" width="27.3" height="28.2" fill="#3a53a3"/>
<text transform="matrix(1 0 0 1.025 0 -23.015)" x="1656.51" y="920.60" font-size="31.00" fill="#000" textLength="72.13" lengthAdjust="spacingAndGlyphs">Input</text>
<text transform="matrix(1 0 0 1.025 0 -23.015)" x="1802.88" y="920.60" font-size="31.00" fill="#000" textLength="143.90" lengthAdjust="spacingAndGlyphs">Reduction</text>
</svg>
</body></html>
